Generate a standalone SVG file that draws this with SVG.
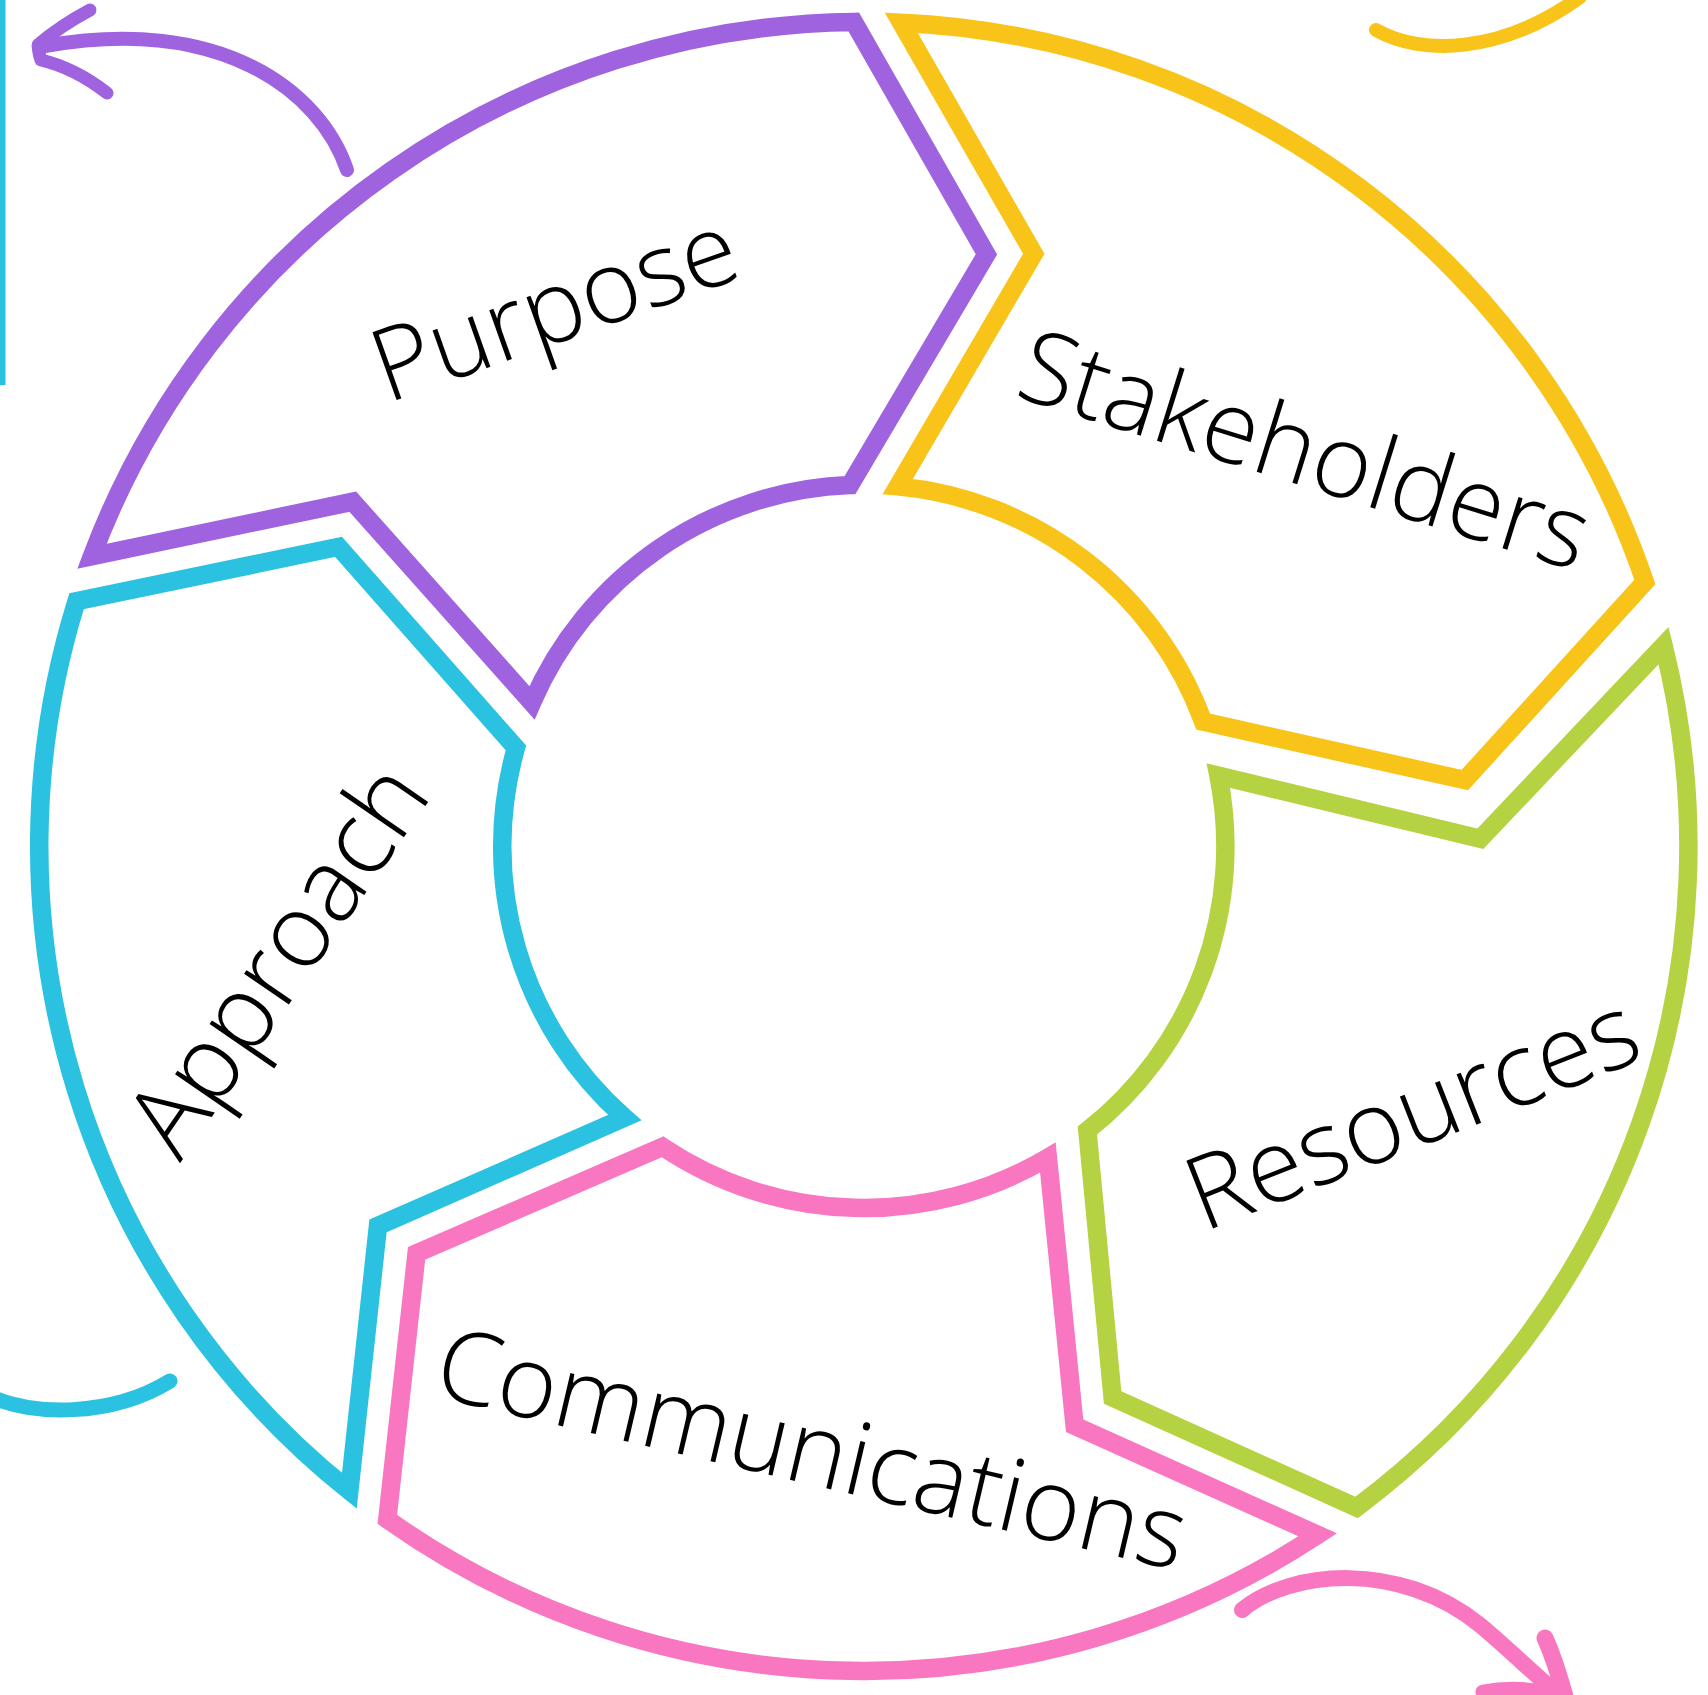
<svg xmlns="http://www.w3.org/2000/svg" width="1708" height="1695" viewBox="0 0 1708 1695">
<style>
.seg{fill:none;stroke-width:18.5;stroke-linejoin:miter;stroke-miterlimit:10}
.lbl{font-family:"Open Sans","Liberation Sans",sans-serif;font-weight:300;font-size:101px;fill:#000;text-anchor:middle}
.brush{fill:none;stroke-linecap:round;stroke-linejoin:round}
</style>
<defs>
<path id="segShape" d="M824.35,-20.15 A824.6,824.6 0 0 1 318.2,760.7 L108.1,594.9 L148.2,329.8 A361.6,361.6 0 0 0 361.5,8.83 L603,128.2 Z"/>
</defs>
<rect width="1708" height="1695" fill="#fff"/>
<rect x="0" y="0" width="5.5" height="385" fill="#2AC2E0"/>

<g id="purpose">
<use href="#segShape" class="seg" stroke="#A063E0" transform="translate(863.8 846.4) rotate(202)"/>
<text class="lbl" transform="translate(566 340) rotate(-19.5)">Purpose</text>
</g>
<g id="stakeholders">
<use href="#segShape" class="seg" stroke="#F8C419" transform="translate(863.8 846.4) rotate(274)"/>
<text class="lbl" transform="translate(1294.5 483.5) rotate(17.3)">Stakeholders</text>
</g>
<g id="resources">
<path class="seg" stroke="#B5D242" transform="translate(863.8 846.4) rotate(346)" d="M824.6,-1.44 A824.6,824.6 0 0 1 318.2,760.7 L108.1,594.9 L148.2,329.8 A361.6,361.6 0 0 0 361.2,17.03 L600,141.8 Z"/>
<text class="lbl" style="font-size:102px" transform="translate(1425 1145) rotate(-21.5)">Resources</text>
</g>
<g id="communications">
<use href="#segShape" class="seg" stroke="#F976C1" transform="translate(863.8 846.4) rotate(418)"/>
<text class="lbl" transform="translate(804 1483) rotate(13.2)">Communications</text>
</g>
<g id="approach">
<use href="#segShape" class="seg" stroke="#2AC2E0" transform="translate(863.8 846.4) rotate(490)"/>
<text class="lbl" style="font-size:102.5px" transform="translate(306.5 979) rotate(-55.5)">Approach</text>
</g>

<g id="connectors">
<path class="brush" stroke="#A063E0" stroke-width="14" d="M347,170 C320,90 220,15 45,46"/>
<path class="brush" stroke="#A063E0" stroke-width="13" d="M90,10 Q60,26 38,45 Q39,55 41,60 Q75,68 107,93"/>
<path class="brush" stroke="#F8C419" stroke-width="14" d="M1376,30 C1420,55 1500,55 1580,-3"/>
<path class="brush" stroke="#2AC2E0" stroke-width="15" d="M-8,1397 C30,1415 110,1418 170,1381"/>
<path class="brush" stroke="#F976C1" stroke-width="16" d="M1242,1610 C1290,1570 1400,1560 1480,1625 C1510,1650 1540,1680 1565,1700"/>
<path class="brush" stroke="#F976C1" stroke-width="17" d="M1545,1638 Q1555,1660 1566,1700"/>
<path class="brush" stroke="#F976C1" stroke-width="15" d="M1483,1692 Q1520,1685 1562,1696"/>
</g>
</svg>
